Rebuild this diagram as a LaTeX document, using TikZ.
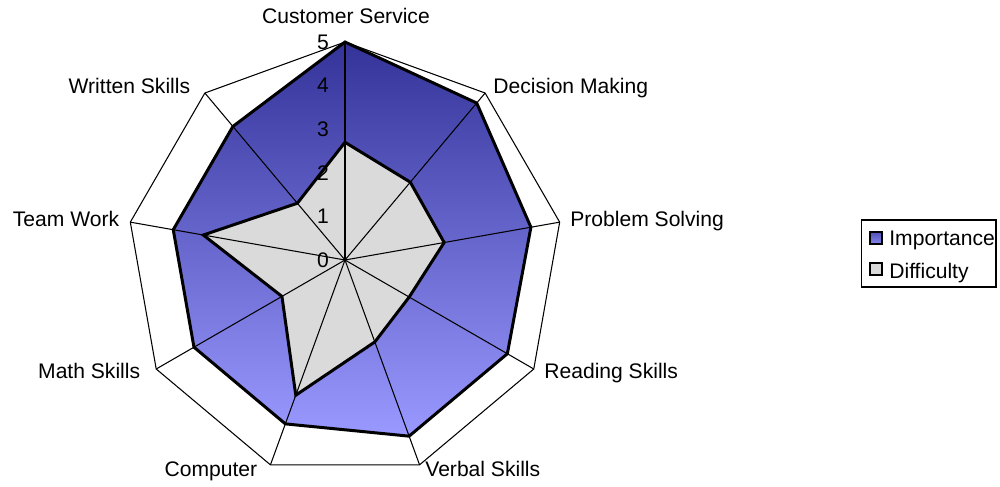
\documentclass[tikz,border=0pt]{standalone}
\usepackage{fontspec}
\setmainfont{Liberation Sans}
\usetikzlibrary{positioning}

\definecolor{impdark}{HTML}{333399}
\definecolor{implight}{HTML}{9999FF}
\definecolor{diffgray}{HTML}{DADADA}

\begin{document}
\begin{tikzpicture}[
        every node/.style={font=\fontsize{12}{14}\selectfont},
        gridline/.style={draw=black, line width=0.6pt},
        outline/.style={draw=black, line width=1.7pt, line join=miter},
        axislabel/.style={inner sep=0pt},
        ticklabel/.style={inner sep=0pt, anchor=east},
        swatch/.style={draw=black, line width=1.3pt, minimum size=0.23cm, inner sep=0pt},
        legendtext/.style={inner sep=0pt, anchor=base west}
    ]
    \useasboundingbox (-6.9,-4.52) rectangle (13.1,5.2);

    % Chart
    \begin{scope}[scale=0.872]
    \foreach \ang/\imp/\dif [count=\i] in {90/5/2.7, 50/4.7/2.33, 10/4.33/2.31,
            -30/4.3/1.7, -70/4.3/2.0, -110/4/3.3, -150/4/1.67, 170/4/3.3, 130/4/1.7} {
        \coordinate (o\i) at (\ang:5);
        \coordinate (imp\i) at (\ang:\imp);
        \coordinate (dif\i) at (\ang:\dif);
    }
    \coordinate (c) at (0,0);

    % Fills
    \path[top color=impdark, bottom color=implight]
        (imp1) -- (imp2) -- (imp3) -- (imp4) -- (imp5) -- (imp6) -- (imp7) -- (imp8) -- (imp9) -- cycle;
    \path[fill=diffgray]
        (dif1) -- (dif2) -- (dif3) -- (dif4) -- (dif5) -- (dif6) -- (dif7) -- (dif8) -- (dif9) -- cycle;

    % Grid
    \draw[gridline] (o1) -- (o2) -- (o3) -- (o4) -- (o5) -- (o6) -- (o7) -- (o8) -- (o9) -- cycle;
    \foreach \i in {1,...,9}
        \draw[gridline] (c) -- (o\i);

    % Outlines
    \draw[outline] (imp1) -- (imp2) -- (imp3) -- (imp4) -- (imp5) -- (imp6) -- (imp7) -- (imp8) -- (imp9) -- cycle;
    \draw[outline] (dif1) -- (dif2) -- (dif3) -- (dif4) -- (dif5) -- (dif6) -- (dif7) -- (dif8) -- (dif9) -- cycle;

    % Scale
    \foreach \v in {0,...,5}
        \node[ticklabel] (t\v) at (-0.36,\v) {\v};
    \end{scope}

    % Axis labels
    \node[axislabel, anchor=base] (cust) at (0.02,4.73) {Customer Service};
    \node[axislabel, anchor=base west] (deci) at (2.96,3.33) {Decision Making};
    \node[axislabel, anchor=base west] (prob) at (4.5,0.68) {Problem Solving};
    \node[axislabel, anchor=base west] (read) at (3.98,-2.36) {Reading Skills};
    \node[axislabel, anchor=base west] (verb) at (1.6,-4.33) {Verbal Skills};
    \node[axislabel, anchor=base east] (comp) at (-1.75,-4.33) {Computer};
    \node[axislabel, anchor=base east] (math) at (-4.09,-2.36) {Math Skills};
    \node[axislabel, anchor=base east] (team) at (-4.51,0.68) {Team Work};
    \node[axislabel, anchor=base east] (writ) at (-3.09,3.33) {Written Skills};

    % Legend
    \node[draw=black, line width=0.6pt, minimum width=2.69cm, minimum height=1.34cm, inner sep=0pt] (legend) at (11.675,0.13) {};
    \node[swatch, top color=impdark!70!implight, bottom color=implight!80!impdark] (impbox) at (10.62,0.44) {};
    \node[swatch, fill=diffgray] (difbox) at (10.62,-0.18) {};
    \node[legendtext] (imptext) at (10.88,0.3) {Importance};
    \node[legendtext] (diftext) at (10.88,-0.37) {Difficulty};

\end{tikzpicture}
\end{document}
